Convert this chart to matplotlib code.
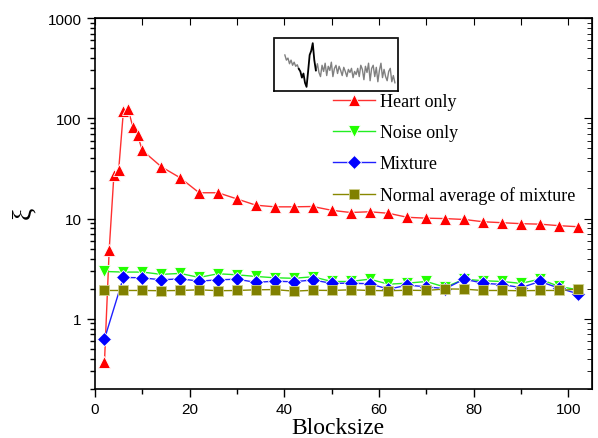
import numpy as np
import matplotlib
matplotlib.use('Agg')
import matplotlib.pyplot as plt
from matplotlib.ticker import LogLocator, NullFormatter, MultipleLocator

# Blocksize values
x_heart = [2, 3, 4, 5, 6, 7, 8, 9, 10, 14, 18, 22, 26, 30, 34, 38, 42, 46, 50,
           54, 58, 62, 66, 70, 74, 78, 82, 86, 90, 94, 98, 102]
x_other = [2, 6, 10, 14, 18, 22, 26, 30, 34, 38, 42, 46, 50,
           54, 58, 62, 66, 70, 74, 78, 82, 86, 90, 94, 98, 102]

heart = [0.37, 4.9, 27.5, 30.4, 118, 123, 82, 67.6, 47.9, 32.9, 25.5, 18.1, 18.1,
         15.7, 13.6, 13.1, 13.1, 13.2, 12.1, 11.5, 11.7, 11.3, 10.3, 10.1, 10.0,
         9.8, 9.3, 9.1, 8.9, 8.8, 8.5, 8.3]
noise = [2.97, 2.93, 2.93, 2.78, 2.84, 2.59, 2.82, 2.75, 2.65, 2.57, 2.54, 2.63, 2.36,
         2.36, 2.49, 2.22, 2.27, 2.36, 2.07, 2.49, 2.40, 2.36, 2.26, 2.49, 2.11, 1.95]
mixture = [0.63, 2.59, 2.57, 2.45, 2.51, 2.38, 2.45, 2.49, 2.31, 2.38, 2.34, 2.45, 2.26,
           2.27, 2.24, 1.98, 2.17, 2.09, 2.00, 2.49, 2.27, 2.20, 2.05, 2.36, 2.03, 1.78]
norm_avg = [1.92, 1.92, 1.92, 1.91, 1.92, 1.95, 1.91, 1.92, 1.95, 1.96, 1.89, 1.93, 1.92,
            1.95, 1.92, 1.91, 1.93, 1.92, 1.99, 1.98, 1.92, 1.92, 1.91, 1.92, 1.92, 1.98]

# inset signal (noise before, heartbeat, noise after)
sig_pre = [0.72, 0.62, 0.66, 0.55, 0.62, 0.52, 0.58, 0.50, 0.53, 0.45]
sig_beat = [0.45, 0.40, 0.28, 0.36, 0.18, 0.10, 0.40, 0.72, 0.80, 0.95, 0.62, 0.42]
sig_post = [0.42, 0.55, 0.38, 0.30, 0.52, 0.40, 0.56, 0.32, 0.50, 0.42, 0.58, 0.30,
            0.46, 0.52, 0.36, 0.50, 0.42, 0.32, 0.48, 0.40, 0.30, 0.44, 0.38, 0.46,
            0.28, 0.40, 0.34, 0.46, 0.30, 0.52, 0.44, 0.24, 0.50, 0.38, 0.56, 0.22,
            0.46, 0.52, 0.30, 0.48, 0.20, 0.42, 0.56, 0.28, 0.44, 0.30, 0.22, 0.40,
            0.46, 0.20, 0.32, 0.18]

serif = 'Liberation Serif'
sans = 'Liberation Sans'

fig = plt.figure(figsize=(5.98, 4.39), dpi=100)
ax = fig.add_axes([95 / 598, 1 - 390 / 439, 497 / 598, 371 / 439])

ax.plot(x_heart, heart, '-^', color='#ff3030', mfc='red', mec='white', mew=0.6, ms=9,
        lw=1, label='Heart only')
ax.plot(x_other, noise, '-v', color='#22ee22', mfc='#22ff00', mec='white', mew=0.6, ms=9,
        lw=1, label='Noise only')
ax.plot(x_other, mixture, '-D', color='#2020ff', mfc='blue', mec='white', mew=0.6, ms=7,
        lw=1, label='Mixture')
ax.plot(x_other, norm_avg, '-s', color='#888800', mfc='#808000', mec='#d0d090', mew=0.6,
        ms=7.5, lw=1, label='Normal average of mixture')

ax.set_yscale('log')
ax.set_xlim(0, 105)
ax.set_ylim(0.2, 1000)
ax.xaxis.set_major_locator(MultipleLocator(20))
ax.xaxis.set_minor_locator(MultipleLocator(10))
ax.yaxis.set_minor_locator(LogLocator(base=10, subs=np.arange(2, 10), numticks=20))
ax.yaxis.set_minor_formatter(NullFormatter())
ax.set_yticks([1, 10, 100, 1000])
ax.set_yticklabels(['1', '10', '100', '1000'])

ax.tick_params(which='both', direction='out', top=False, right=False, width=1)
ax.tick_params(which='major', length=6)
ax.tick_params(which='minor', length=3.5)
for lab in ax.get_xticklabels() + ax.get_yticklabels():
    lab.set_fontfamily(sans)
    lab.set_fontsize(11)

# top/right inward ticks
axt = ax.secondary_xaxis('top')
axt.set_xticks(np.arange(0, 106, 10))
axt.tick_params(direction='in', length=5, labeltop=False)
axr = ax.secondary_yaxis('right')
axr.yaxis.set_major_locator(LogLocator(base=10, numticks=10))
axr.yaxis.set_minor_locator(LogLocator(base=10, subs=np.arange(2, 10), numticks=20))
axr.tick_params(which='major', direction='in', length=6, labelright=False)
axr.tick_params(which='minor', direction='in', length=3.5, labelright=False)

for sp in ax.spines.values():
    sp.set_linewidth(1.2)

fig.text(338 / 598, 1 - 434 / 439, 'Blocksize', fontfamily=serif, fontsize=17,
         ha='center', va='baseline')
ax.set_ylabel('ξ', fontfamily=serif, fontsize=20)
ax.yaxis.set_label_coords(-0.118, 0.477)

leg = ax.legend(loc='upper left', bbox_to_anchor=(333 / 598, 1 - 94 / 439),
                bbox_transform=fig.transFigure, frameon=False, borderpad=0,
                borderaxespad=0, handlelength=2.3, handletextpad=0.28, labelspacing=0.78,
                prop={'family': serif, 'size': 13})

# inset with the signal
ins = fig.add_axes([274 / 598, 1 - 92 / 439, 124 / 598, 53 / 439])
n_pre = len(sig_pre)
n_beat = len(sig_beat)
xs_pre = np.arange(n_pre)
xs_beat = np.arange(n_pre - 1, n_pre - 1 + n_beat)
xs_post = np.arange(n_pre + n_beat - 2, n_pre + n_beat - 2 + len(sig_post))
ins.plot(xs_pre, sig_pre, color='#808080', lw=1)
ins.plot(xs_post, sig_post, color='#808080', lw=1)
ins.plot(xs_beat, sig_beat, color='black', lw=1.3)
ins.set_xlim(-7, xs_post[-1] + 2)
ins.set_ylim(0.02, 1.05)
ins.set_xticks([])
ins.set_yticks([])
for sp in ins.spines.values():
    sp.set_linestyle((0, (1, 1)))
    sp.set_linewidth(1.2)

fig.savefig('out.png', dpi=100)
